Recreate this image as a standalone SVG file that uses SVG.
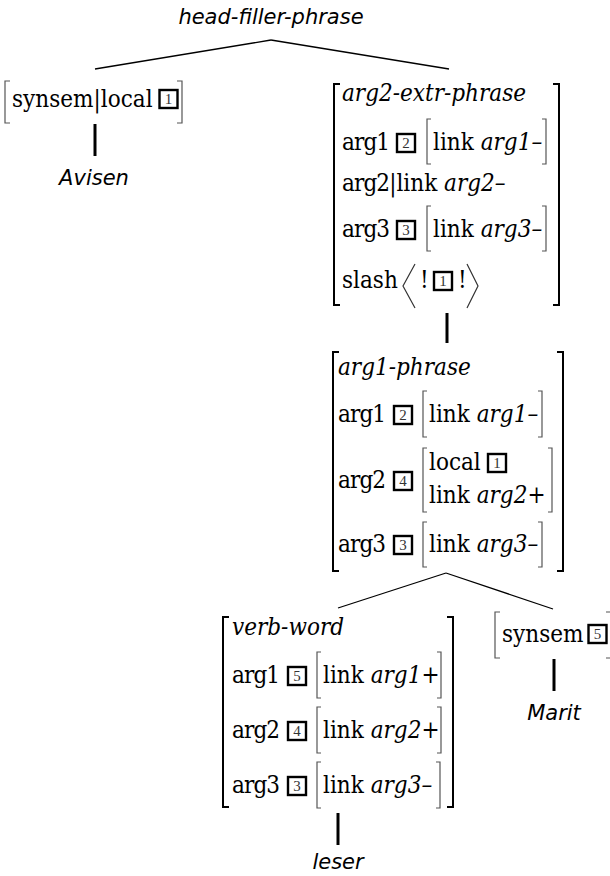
<svg xmlns="http://www.w3.org/2000/svg" width="610" height="876" viewBox="0 0 610 876">
<style>
.up{font-family:"DejaVu Serif",serif;font-stretch:condensed;font-size:24px;fill:#000}
.i{font-style:italic}
.k{letter-spacing:-0.9px}
.lbl{font-family:"DejaVu Sans",sans-serif;font-style:italic;font-size:21px;fill:#000}
.tag{fill:#fff;stroke:#000;stroke-width:2.4}
.tn{font-family:"Liberation Serif",serif;font-size:15px;fill:#333;text-anchor:middle}
.bb{fill:none;stroke:#000;stroke-width:2}
.sb{fill:none;stroke:#555;stroke-width:1.2}
.ang{fill:none;stroke:#333;stroke-width:1.2}
.edge{stroke:#000;stroke-width:1.3;fill:none}
.bar{stroke:#000;stroke-width:3}
</style>
<rect width="610" height="876" fill="#fff"/>

<g id="connectors">
<line class="edge" x1="271" y1="40" x2="95" y2="69"/>
<line class="edge" x1="271" y1="40" x2="449" y2="69"/>
<line class="bar" x1="95" y1="124" x2="95" y2="156"/>
<line class="bar" x1="447" y1="313" x2="447" y2="343"/>
<line class="edge" x1="446" y1="573" x2="338" y2="608"/>
<line class="edge" x1="446" y1="573" x2="553" y2="609"/>
<line class="bar" x1="338" y1="813" x2="338" y2="845"/>
<line class="bar" x1="554" y1="659" x2="554" y2="691"/>
</g>

<g id="n-head-filler">
<text class="lbl" x="271" y="24" text-anchor="middle">head-filler-phrase</text>
</g>

<g id="n-filler">
<path class="sb" d="M10,81 H5 V123 H10"/>
<path class="sb" d="M177,81 H182 V123 H177"/>
<text class="up" x="12" y="107">synsem|local</text>
<rect class="tag" x="159.5" y="90" width="18" height="18"/>
<text class="tn" x="168.5" y="104">1</text>
</g>

<g id="n-avisen">
<text class="lbl" x="94" y="185" text-anchor="middle">Avisen</text>
</g>

<g id="n-arg2-extr">
<path class="bb" d="M340,84 H334 V305 H340"/>
<path class="bb" d="M553,84 H559 V305 H553"/>
<text class="up i" x="342" y="101">arg2-extr-phrase</text>
<text class="up k" x="342" y="150">arg1</text>
<rect class="tag" x="397" y="134" width="18" height="18"/>
<text class="tn" x="406" y="148">2</text>
<path class="sb" d="M431,119 H427 V164 H431"/>
<text class="up" x="433" y="150">link <tspan class="i">arg1–</tspan></text>
<path class="sb" d="M542,119 H546 V164 H542"/>
<text class="up" x="342" y="191"><tspan class="k">arg2</tspan>|link <tspan class="i">arg2–</tspan></text>
<text class="up k" x="342" y="237">arg3</text>
<rect class="tag" x="397" y="221" width="18" height="18"/>
<text class="tn" x="406" y="235">3</text>
<path class="sb" d="M431,206 H427 V251 H431"/>
<text class="up" x="433" y="237">link <tspan class="i">arg3–</tspan></text>
<path class="sb" d="M542,206 H546 V251 H542"/>
<text class="up" x="342" y="288">slash</text>
<polyline class="ang" points="415,264 403,286 415,308"/>
<text class="up" x="420" y="288">!</text>
<rect class="tag" x="434" y="272" width="18" height="18"/>
<text class="tn" x="443" y="286">1</text>
<text class="up" x="458" y="288">!</text>
<polyline class="ang" points="467,264 478,286 467,308"/>
</g>

<g id="n-arg1-phrase">
<path class="bb" d="M339,352 H333 V571 H339"/>
<path class="bb" d="M557,352 H563 V571 H557"/>
<text class="up i" x="338" y="375">arg1-phrase</text>
<text class="up k" x="338" y="422">arg1</text>
<rect class="tag" x="394" y="406" width="18" height="18"/>
<text class="tn" x="403" y="420">2</text>
<path class="sb" d="M427,391 H423 V437 H427"/>
<text class="up" x="429" y="422">link <tspan class="i">arg1–</tspan></text>
<path class="sb" d="M538,391 H542 V437 H538"/>
<text class="up k" x="338" y="488">arg2</text>
<rect class="tag" x="394" y="472" width="18" height="18"/>
<text class="tn" x="403" y="486">4</text>
<path class="sb" d="M427,448 H423 V512 H427"/>
<text class="up" x="429" y="470">local</text>
<rect class="tag" x="488" y="454" width="18" height="18"/>
<text class="tn" x="497" y="468">1</text>
<text class="up" x="429" y="503">link <tspan class="i">arg2+</tspan></text>
<path class="sb" d="M548,448 H552 V512 H548"/>
<text class="up k" x="338" y="552">arg3</text>
<rect class="tag" x="394" y="536" width="18" height="18"/>
<text class="tn" x="403" y="550">3</text>
<path class="sb" d="M427,522 H423 V567 H427"/>
<text class="up" x="429" y="552">link <tspan class="i">arg3–</tspan></text>
<path class="sb" d="M538,522 H542 V567 H538"/>
</g>

<g id="n-verb-word">
<path class="bb" d="M229,617 H223 V807 H229"/>
<path class="bb" d="M447,617 H453 V807 H447"/>
<text class="up i" x="232" y="635">verb-word</text>
<text class="up k" x="232" y="683">arg1</text>
<rect class="tag" x="288" y="667" width="18" height="18"/>
<text class="tn" x="297" y="681">5</text>
<path class="sb" d="M321,652 H317 V698 H321"/>
<text class="up" x="323" y="683">link <tspan class="i">arg1+</tspan></text>
<path class="sb" d="M437,652 H441 V698 H437"/>
<text class="up k" x="232" y="738">arg2</text>
<rect class="tag" x="288" y="722" width="18" height="18"/>
<text class="tn" x="297" y="736">4</text>
<path class="sb" d="M321,707 H317 V753 H321"/>
<text class="up" x="323" y="738">link <tspan class="i">arg2+</tspan></text>
<path class="sb" d="M437,707 H441 V753 H437"/>
<text class="up k" x="232" y="793">arg3</text>
<rect class="tag" x="288" y="777" width="18" height="18"/>
<text class="tn" x="297" y="791">3</text>
<path class="sb" d="M321,762 H317 V808 H321"/>
<text class="up" x="323" y="793">link <tspan class="i">arg3–</tspan></text>
<path class="sb" d="M436,762 H440 V808 H436"/>
</g>

<g id="n-leser">
<text class="lbl" x="338" y="869" text-anchor="middle">leser</text>
</g>

<g id="n-synsem5">
<path class="sb" d="M500,612 H495 V658 H500"/>
<path class="sb" d="M606,612 H611 V658 H606"/>
<text class="up" x="502" y="642">synsem</text>
<rect class="tag" x="588.5" y="625" width="18" height="18"/>
<text class="tn" x="597.5" y="639">5</text>
</g>

<g id="n-marit">
<text class="lbl" x="554" y="720" text-anchor="middle">Marit</text>
</g>
</svg>
